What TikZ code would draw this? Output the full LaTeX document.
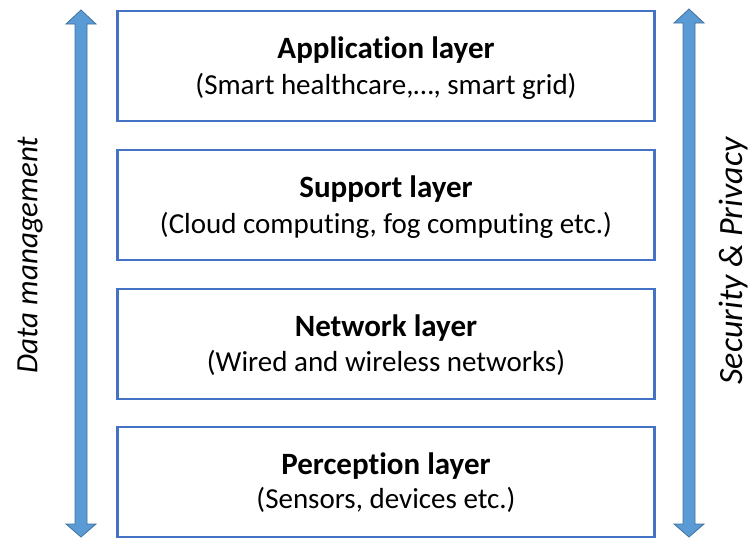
\documentclass[tikz,border=0pt]{standalone}
\usepackage{fontspec}
\setmainfont[Ligatures={NoCommon,TeX}]{Carlito}
\definecolor{boxblue}{RGB}{68,114,196}
\definecolor{arrfill}{RGB}{91,155,213}
\definecolor{arrline}{RGB}{65,113,156}
\begin{document}
\begin{tikzpicture}[x=1pt,y=-1pt,
  layer/.style={draw=boxblue,line width=2.5pt,fill=white,minimum width=537pt,minimum height=110pt,inner sep=0pt,align=center},
  ttl/.style={font=\fontsize{31}{36}\selectfont\bfseries},
  sub/.style={font=\fontsize{29}{34}\selectfont},
  sidetext/.style={font=\fontsize{31}{38}\selectfont\itshape,rotate=90},
  bigarrow/.style={fill=arrfill,draw=arrline,line width=0.8pt,line join=miter}]
\useasboundingbox (0,0) rectangle (750,538);
\node[layer] (app) at (386,66) {};
\node[layer] (sup) at (386,205) {};
\node[layer] (net) at (386,344) {};
\node[layer] (per) at (386,482) {};
\node[ttl] at (386,50) {Application layer};
\node[sub] at (386,86) {(Smart healthcare,…, smart grid)};
\node[ttl] at (386,189) {Support layer};
\node[sub] at (386,225) {(Cloud computing, fog computing etc.)};
\node[ttl] at (386,328) {Network layer};
\node[sub] at (386,363) {(Wired and wireless networks)};
\node[ttl] at (386,466) {Perception layer};
\node[sub] at (386,500) {(Sensors, devices etc.)};
\draw[bigarrow] (81,10) -- (96,24) -- (87,24) -- (87,524) -- (96,524) -- (81,537) -- (66,524) -- (75,524) -- (75,24) -- (66,24) -- cycle;
\draw[bigarrow] (689,9) -- (704,23) -- (695,23) -- (695,524) -- (704,524) -- (689,537) -- (674,524) -- (683,524) -- (683,23) -- (674,23) -- cycle;
\node[sidetext] (dm) at (30,255) {Data management};
\node[sidetext,font=\fontsize{34}{40}\selectfont\itshape] (sp) at (734,261) {Security \& Privacy};
\end{tikzpicture}
\end{document}
